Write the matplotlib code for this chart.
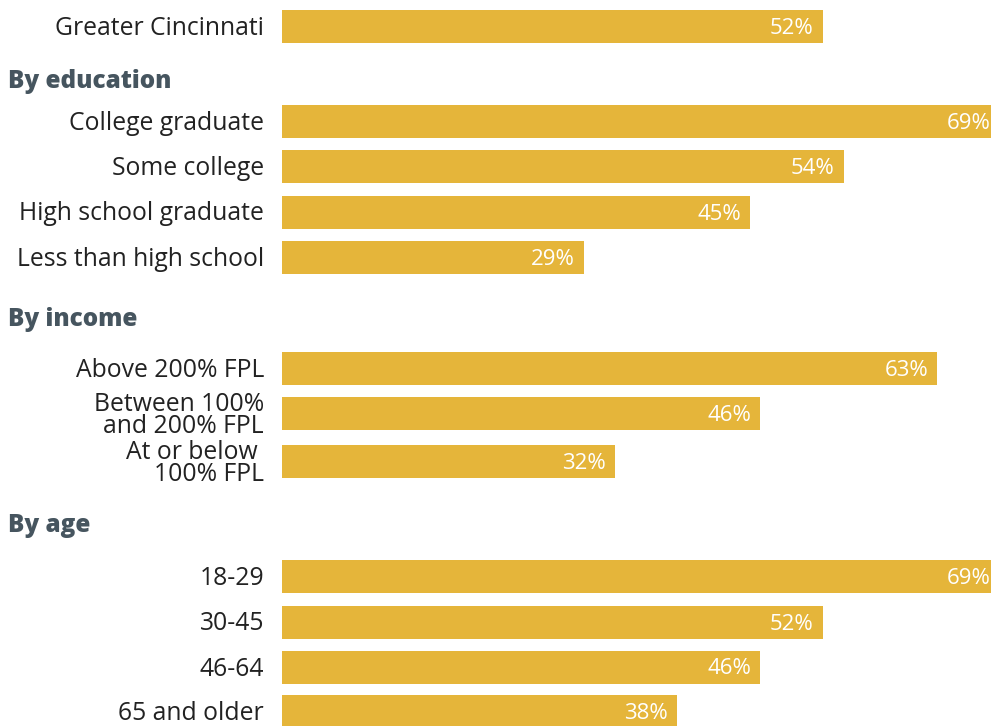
import matplotlib.pyplot as plt

# Share of adults, by group
labels = ['Greater Cincinnati',
          'College graduate', 'Some college', 'High school graduate', 'Less than high school',
          'Above 200% FPL', 'Between 100%\nand 200% FPL', 'At or below \n100% FPL',
          '18-29', '30-45', '46-64', '65 and older']
values = [52, 69, 54, 45, 29, 63, 46, 32, 69, 52, 46, 38]
headers = ['By education', 'By income', 'By age']

# Row centres in pixels from the top, and header centres
rows_y = [26.5, 121.5, 166.5, 212, 257.5, 368.5, 413.5, 461.5, 576.5, 622, 667, 711.5]
headers_y = [81, 320, 526]

bar_color = '#E5B53A'
head_color = '#46555F'
px_per_pct = 10.4
left_px = 282
W, H = 991, 726

plt.rcParams['font.family'] = ['Open Sans', 'DejaVu Sans']

fig = plt.figure(figsize=(W / 100, H / 100), dpi=100)
ax = fig.add_axes([0, 0, 1, 1])
ax.set_xlim(-left_px / px_per_pct, (W - left_px) / px_per_pct)
ax.set_ylim(H, 0)
ax.axis('off')

ax.barh(rows_y, values, height=33, color=bar_color, left=0)

label_x = -(left_px - 264) / px_per_pct
for y, lab, v in zip(rows_y, labels, values):
    ax.text(label_x, y + 2, lab, ha='right', va='center', fontsize=17.8,
            color='#222222', linespacing=0.85)
    ax.text(v - 9 / px_per_pct, y + 2, f'{v}%', ha='right', va='center',
            fontsize=16, color='white')

head_x = -(left_px - 8) / px_per_pct
for y, h in zip(headers_y, headers):
    ax.text(head_x, y, h, ha='left', va='center', fontsize=17.5,
            fontweight='heavy', color=head_color)

fig.savefig('out.png', dpi=100)
